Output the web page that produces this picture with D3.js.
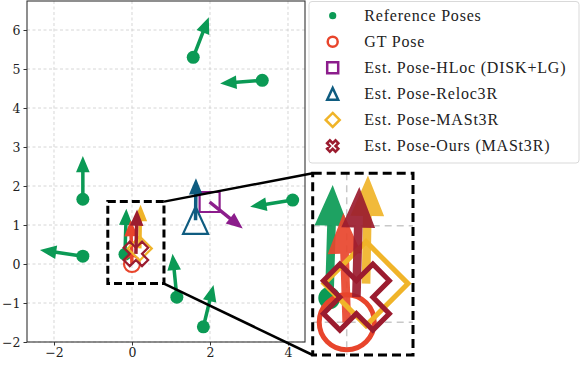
<!DOCTYPE html>
<html>
<head>
<meta charset="utf-8">
<script src="https://cdnjs.cloudflare.com/ajax/libs/d3/7.8.5/d3.min.js"></script>
<style>
  body { margin: 0; background: #fff; }
  svg { display: block; }
</style>
</head>
<body>
<div id="chart"></div>
<script>
// reference poses: position + heading offset (arrow tip)
var refX  = [1.57, 3.34, -1.26, 4.12, -1.26, 1.15, 1.83, -0.18];
var refY  = [5.30, 4.71, 1.66, 1.64, 0.20, -0.85, -1.61, 0.25];
var refDX = [0.40, -1.08, 0.00, -1.09, -1.10, -0.11, 0.26, 0.035];
var refDY = [1.03, -0.08, 1.11, -0.17, 0.16, 1.11, 1.07, 1.17];

// GT + estimated poses
var methods = ["GT Pose", "Est. Pose-HLoc (DISK+LG)", "Est. Pose-Reloc3R", "Est. Pose-MASt3R", "Est. Pose-Ours (MASt3R)"];
var poseX  = [0.00, 1.99, 1.63, 0.20, 0.10];
var poseY  = [0.00, 1.59, 1.12, 0.40, 0.26];
var poseDX = [-0.035, 0.85, 0.01, 0.02, 0.03];
var poseDY = [1.13, -0.68, 1.08, 1.12, 1.14];
var colors = ["#e8452c", "#8c1d8c", "#0f5c80", "#f0b429", "#9b1c2f"];
var symbols = ["circle", "square", "triangle", "diamond", "cross"];
var refColor = "#0b9a55";

var xTicks = [-2, 0, 2, 4];
var yTicks = [-2, -1, 0, 1, 2, 3, 4, 5, 6];
var zoomBox = [-0.62, 0.82, -0.5, 1.6]; // x0, x1, y0, y1

var W = 581, H = 365;
var svg = d3.select("#chart").append("svg").attr("width", W).attr("height", H);

var x = d3.scaleLinear().domain([-2.692, 4.436]).range([27, 305]);
var y = d3.scaleLinear().domain([-2, 6.744]).range([342, 1]);

var xi = d3.scaleLinear().domain([-0.352, 0.686]).range([312.7, 413]);
var yi = d3.scaleLinear().domain([-0.339, 1.542]).range([355, 173.3]);

// arrow polygon in data units, mapped through scales
function arrowPath(sx, sy, bx, by, dx, dy, w, hw, hl) {
  var len = Math.sqrt(dx * dx + dy * dy);
  var ux = dx / len, uy = dy / len;
  var nx = -uy, ny = ux;
  var nk = len - hl;
  var pts = [
    [bx + nx * w / 2, by + ny * w / 2],
    [bx + ux * nk + nx * w / 2, by + uy * nk + ny * w / 2],
    [bx + ux * nk + nx * hw / 2, by + uy * nk + ny * hw / 2],
    [bx + dx, by + dy],
    [bx + ux * nk - nx * hw / 2, by + uy * nk - ny * hw / 2],
    [bx + ux * nk - nx * w / 2, by + uy * nk - ny * w / 2],
    [bx - nx * w / 2, by - ny * w / 2]
  ];
  return "M" + pts.map(function (p) { return sx(p[0]) + "," + sy(p[1]); }).join("L") + "Z";
}

function symbolPath(type, s) {
  if (type === "circle") {
    return "M" + s + ",0A" + s + "," + s + " 0 1,1 " + (-s) + ",0A" + s + "," + s + " 0 1,1 " + s + ",0Z";
  }
  if (type === "square") {
    return "M" + (-s) + "," + (-s) + "H" + s + "V" + s + "H" + (-s) + "Z";
  }
  if (type === "triangle") {
    return "M0," + (-s * 1.08) + "L" + s + "," + (s * 1.08) + "L" + (-s) + "," + (s * 1.08) + "Z";
  }
  if (type === "diamond") {
    return "M0," + (-s) + "L" + s + ",0L0," + s + "L" + (-s) + ",0Z";
  }
  // cross: plus rotated 45deg
  var a = s / 3, L = s, c = Math.SQRT1_2;
  var p = [[a, L], [a, a], [L, a], [L, -a], [a, -a], [a, -L], [-a, -L], [-a, -a], [-L, -a], [-L, a], [-a, a], [-a, L]];
  return "M" + p.map(function (q) { return (q[0] * c - q[1] * c) + "," + (q[0] * c + q[1] * c); }).join("L") + "Z";
}

var font = "'Liberation Serif', 'DejaVu Serif', serif";
var tickFont = "'DejaVu Serif', serif";

// ---- main axes ----
var main = svg.append("g");
main.append("defs").append("clipPath").attr("id", "clipMain")
  .append("rect").attr("x", 27).attr("y", 1).attr("width", 278).attr("height", 341);

var grid = main.append("g").attr("stroke", "#cccccc").attr("stroke-width", 0.8).attr("stroke-dasharray", "3,2.5");
grid.selectAll(".gx").data(xTicks).enter().append("line")
  .attr("x1", function (d) { return x(d); }).attr("x2", function (d) { return x(d); })
  .attr("y1", 1).attr("y2", 342);
grid.selectAll(".gy").data(yTicks).enter().append("line")
  .attr("y1", function (d) { return y(d); }).attr("y2", function (d) { return y(d); })
  .attr("x1", 27).attr("x2", 305);

function drawPoses(g, sx, sy, sizes, sw, arrowOpacity) {
  var aw = 0.09, ahw = 0.35, ahl = 0.42;
  refX.forEach(function (d, i) {
    g.append("path").attr("d", arrowPath(sx, sy, refX[i], refY[i], refDX[i], refDY[i], aw, ahw, ahl))
      .attr("fill", refColor).attr("opacity", arrowOpacity);
    g.append("circle").attr("cx", sx(refX[i])).attr("cy", sy(refY[i])).attr("r", sizes.dot)
      .attr("fill", refColor);
  });
  methods.forEach(function (m, i) {
    g.append("path").attr("d", arrowPath(sx, sy, poseX[i], poseY[i], poseDX[i], poseDY[i], aw, ahw, ahl))
      .attr("fill", colors[i]).attr("opacity", arrowOpacity);
    g.append("path").attr("d", symbolPath(symbols[i], sizes[symbols[i]]))
      .attr("transform", "translate(" + sx(poseX[i]) + "," + sy(poseY[i]) + ")")
      .attr("fill", "none").attr("stroke", colors[i]).attr("stroke-width", sw)
      .attr("stroke-linejoin", "miter");
  });
}

var plot = main.append("g").attr("clip-path", "url(#clipMain)");
drawPoses(plot, x, y, { dot: 6.5, circle: 8, square: 10, triangle: 12.5, diamond: 12, cross: 13 }, 2.2, 1);

// frame
main.append("rect").attr("x", 27).attr("y", 1).attr("width", 278).attr("height", 341)
  .attr("fill", "none").attr("stroke", "#333").attr("stroke-width", 1.1);

// axes
var xAxis = main.append("g").attr("transform", "translate(0,342)")
  .call(d3.axisBottom(x).tickValues(xTicks).tickSize(3.5).tickPadding(3));
var yAxis = main.append("g").attr("transform", "translate(27,0)")
  .call(d3.axisLeft(y).tickValues(yTicks).tickSize(3.5).tickPadding(3));
[xAxis, yAxis].forEach(function (a) {
  a.select(".domain").remove();
  a.selectAll(".tick line").attr("stroke", "#333").attr("stroke-width", 1);
  a.selectAll(".tick text").attr("fill", "#222").style("font-family", tickFont).style("font-size", "12.5px");
});

// zoom indicator box
main.append("rect")
  .attr("x", x(zoomBox[0])).attr("y", y(zoomBox[3]))
  .attr("width", x(zoomBox[1]) - x(zoomBox[0])).attr("height", y(zoomBox[2]) - y(zoomBox[3]))
  .attr("fill", "none").attr("stroke", "#000").attr("stroke-width", 3).attr("stroke-dasharray", "8,4");

// connector lines
var ix0 = xi.range()[0], iy0 = yi.range()[1], iy1 = yi.range()[0];
svg.append("line").attr("x1", x(zoomBox[1])).attr("y1", y(zoomBox[3])).attr("x2", ix0).attr("y2", iy0)
  .attr("stroke", "#000").attr("stroke-width", 2.5);
svg.append("line").attr("x1", x(zoomBox[1])).attr("y1", y(zoomBox[2])).attr("x2", ix0).attr("y2", iy1)
  .attr("stroke", "#000").attr("stroke-width", 2.5);

// ---- inset ----
var inset = svg.append("g");
inset.append("defs").append("clipPath").attr("id", "clipInset")
  .append("rect").attr("x", xi.range()[0]).attr("y", iy0)
  .attr("width", xi.range()[1] - xi.range()[0]).attr("height", iy1 - iy0);
inset.append("rect").attr("x", xi.range()[0]).attr("y", iy0)
  .attr("width", xi.range()[1] - xi.range()[0]).attr("height", iy1 - iy0).attr("fill", "#fff");
var ig = inset.append("g").attr("clip-path", "url(#clipInset)");
var igrid = ig.append("g").attr("stroke", "#c8c8c8").attr("stroke-width", 1.5).attr("stroke-dasharray", "7,5");
[0].forEach(function (d) {
  igrid.append("line").attr("x1", xi(d)).attr("x2", xi(d)).attr("y1", iy0).attr("y2", iy1);
});
[0, 1].forEach(function (d) {
  igrid.append("line").attr("y1", yi(d)).attr("y2", yi(d)).attr("x1", xi.range()[0]).attr("x2", xi.range()[1]);
});
drawPoses(ig, xi, yi, { dot: 11, circle: 27.5, square: 30, triangle: 30, diamond: 42, cross: 35 }, 5, 0.92);
inset.append("rect").attr("x", xi.range()[0]).attr("y", iy0)
  .attr("width", xi.range()[1] - xi.range()[0]).attr("height", iy1 - iy0)
  .attr("fill", "none").attr("stroke", "#000").attr("stroke-width", 3).attr("stroke-dasharray", "9,5");

// ---- legend ----
var leg = svg.append("g");
leg.append("rect").attr("x", 309).attr("y", 1.5).attr("width", 270).attr("height", 161.5).attr("rx", 3)
  .attr("fill", "#fff").attr("fill-opacity", 0.85).attr("stroke", "#d9d9d9").attr("stroke-width", 1);
var labels = ["Reference Poses"].concat(methods);
var legY = d3.scaleLinear().domain([0, 5]).range([15.7, 146]);
labels.forEach(function (t, i) {
  var cy = legY(i);
  if (i === 0) {
    leg.append("circle").attr("cx", 332.7).attr("cy", cy).attr("r", 3.6).attr("fill", refColor);
  } else {
    var s = { circle: 5, square: 5.5, triangle: 5.5, diamond: 7, cross: 6 }[symbols[i - 1]];
    leg.append("path").attr("d", symbolPath(symbols[i - 1], s))
      .attr("transform", "translate(332.7," + cy + ")")
      .attr("fill", "none").attr("stroke", colors[i - 1]).attr("stroke-width", 2.5);
  }
  leg.append("text").attr("x", 364.3).attr("y", cy + 5).text(t)
    .style("font-family", font).style("font-size", "16px").style("letter-spacing", "0.8px").attr("fill", "#222");
});
</script>
</body>
</html>
